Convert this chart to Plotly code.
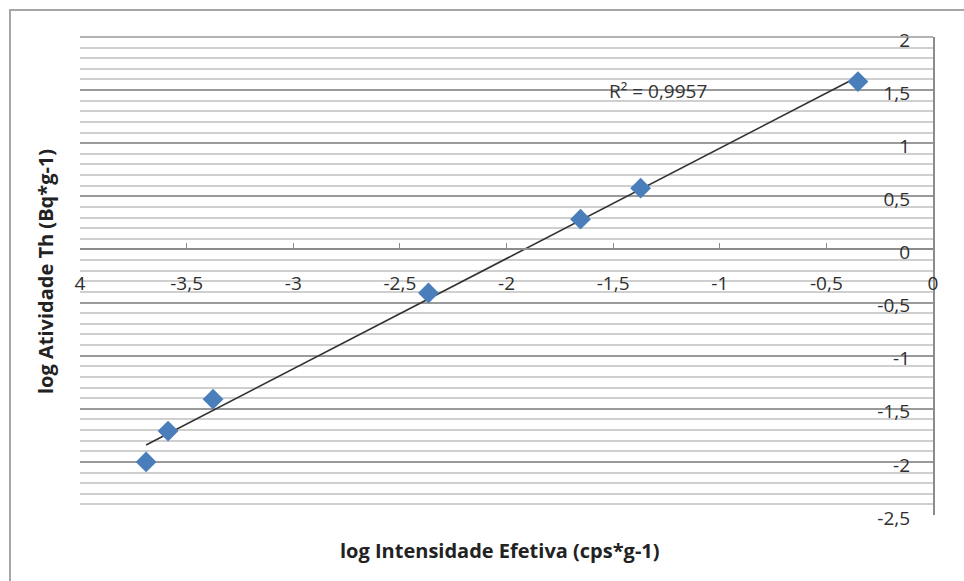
import numpy as np
import plotly.graph_objects as go

# Measured points (log effective intensity vs log Th activity)
log_intensidade = [-3.69, -3.587, -3.376, -2.366, -1.653, -1.371, -0.352]
log_atividade = [-2.00, -1.71, -1.41, -0.41, 0.285, 0.577, 1.58]

x_ticks = [-4, -3.5, -3, -2.5, -2, -1.5, -1, -0.5, 0]
x_tick_labels = ["4", "-3,5", "-3", "-2,5", "-2", "-1,5", "-1", "-0,5", "0"]
y_ticks = [-2.5, -2, -1.5, -1, -0.5, 0, 0.5, 1, 1.5, 2]
y_tick_labels = ["-2,5", "-2", "-1,5", "-1", "-0,5", "0", "0,5", "1", "1,5", "2"]
r2_text = "R² = 0,9957"

# Linear trend line across the data span
slope, intercept = np.polyfit(log_intensidade, log_atividade, 1)
trend_x = [min(log_intensidade), max(log_intensidade)]
trend_y = [slope * v + intercept for v in trend_x]

fig = go.Figure()
fig.add_trace(go.Scatter(
    x=trend_x, y=trend_y, mode="lines",
    line=dict(color="#333333", width=1.6), hoverinfo="skip",
))
fig.add_trace(go.Scatter(
    x=log_intensidade, y=log_atividade, mode="markers",
    marker=dict(symbol="diamond", size=16, color="#4A7EBB"),
))

FAMILY = "'Open Sans', Lato, sans-serif"
tick_font = dict(family=FAMILY, size=19, color="#2e2e2e")
title_font = dict(family=FAMILY, size=20, color="#222222")

fig.update_layout(
    width=964, height=581,
    margin=dict(l=80, r=31, t=37, b=66),
    paper_bgcolor="white", plot_bgcolor="white",
    showlegend=False,
    separators=", ",
    xaxis=dict(
        range=[-4, 0], anchor="free", position=2.5 / 4.5,
        tickvals=x_ticks, ticktext=x_tick_labels, tickfont=tick_font,
        showgrid=False, zeroline=False,
        showline=True, linecolor="#8c8c8c", linewidth=1.5,
        ticks="inside", ticklen=6, tickcolor="#8c8c8c",
        ticklabelstandoff=17, ticklabeloverflow="allow",
    ),
    yaxis=dict(
        range=[-2.5, 2], side="right", anchor="x",
        tickvals=y_ticks, ticktext=y_tick_labels, tickfont=tick_font,
        ticklabelposition="inside", ticklabelstandoff=24, ticklabelshift=3,
        ticklabeloverflow="allow",
        showgrid=True, gridcolor="#9a9a9a", gridwidth=1.5,
        zeroline=False,
        showline=True, linecolor="#8c8c8c", linewidth=1.5,
        minor=dict(dtick=0.1, showgrid=True, gridcolor="#cfcfcf", gridwidth=1.5),
    ),
    shapes=[
        # outer chart frame
        dict(type="rect", xref="paper", yref="paper",
             x0=(10 - 80) / 853, x1=1.1, y0=-0.3, y1=(515 - 10) / 478,
             line=dict(color="#a6a6a6", width=2), layer="below"),
        # top edge of the plot area
        dict(type="line", xref="paper", yref="paper", x0=0, x1=1, y0=1, y1=1,
             line=dict(color="#9a9a9a", width=1.5)),
    ],
    annotations=[
        dict(text=r2_text, x=-1.53, y=1.49, xref="x", yref="y",
             xanchor="left", yanchor="middle", showarrow=False,
             font=dict(family=FAMILY, size=19, color="#333333")),
        dict(text="<b>log Intensidade Efetiva (cps*g-1)</b>",
             x=(500 - 80) / 853, y=-(550 - 515) / 478, xref="paper", yref="paper",
             xanchor="center", yanchor="middle", showarrow=False, font=title_font),
        dict(text="<b>log Atividade Th (Bq*g-1)</b>", textangle=-90,
             x=(45 - 80) / 853, y=(515 - 272) / 478, xref="paper", yref="paper",
             xanchor="center", yanchor="middle", showarrow=False, font=title_font),
    ],
)

fig.write_html("out.html")
